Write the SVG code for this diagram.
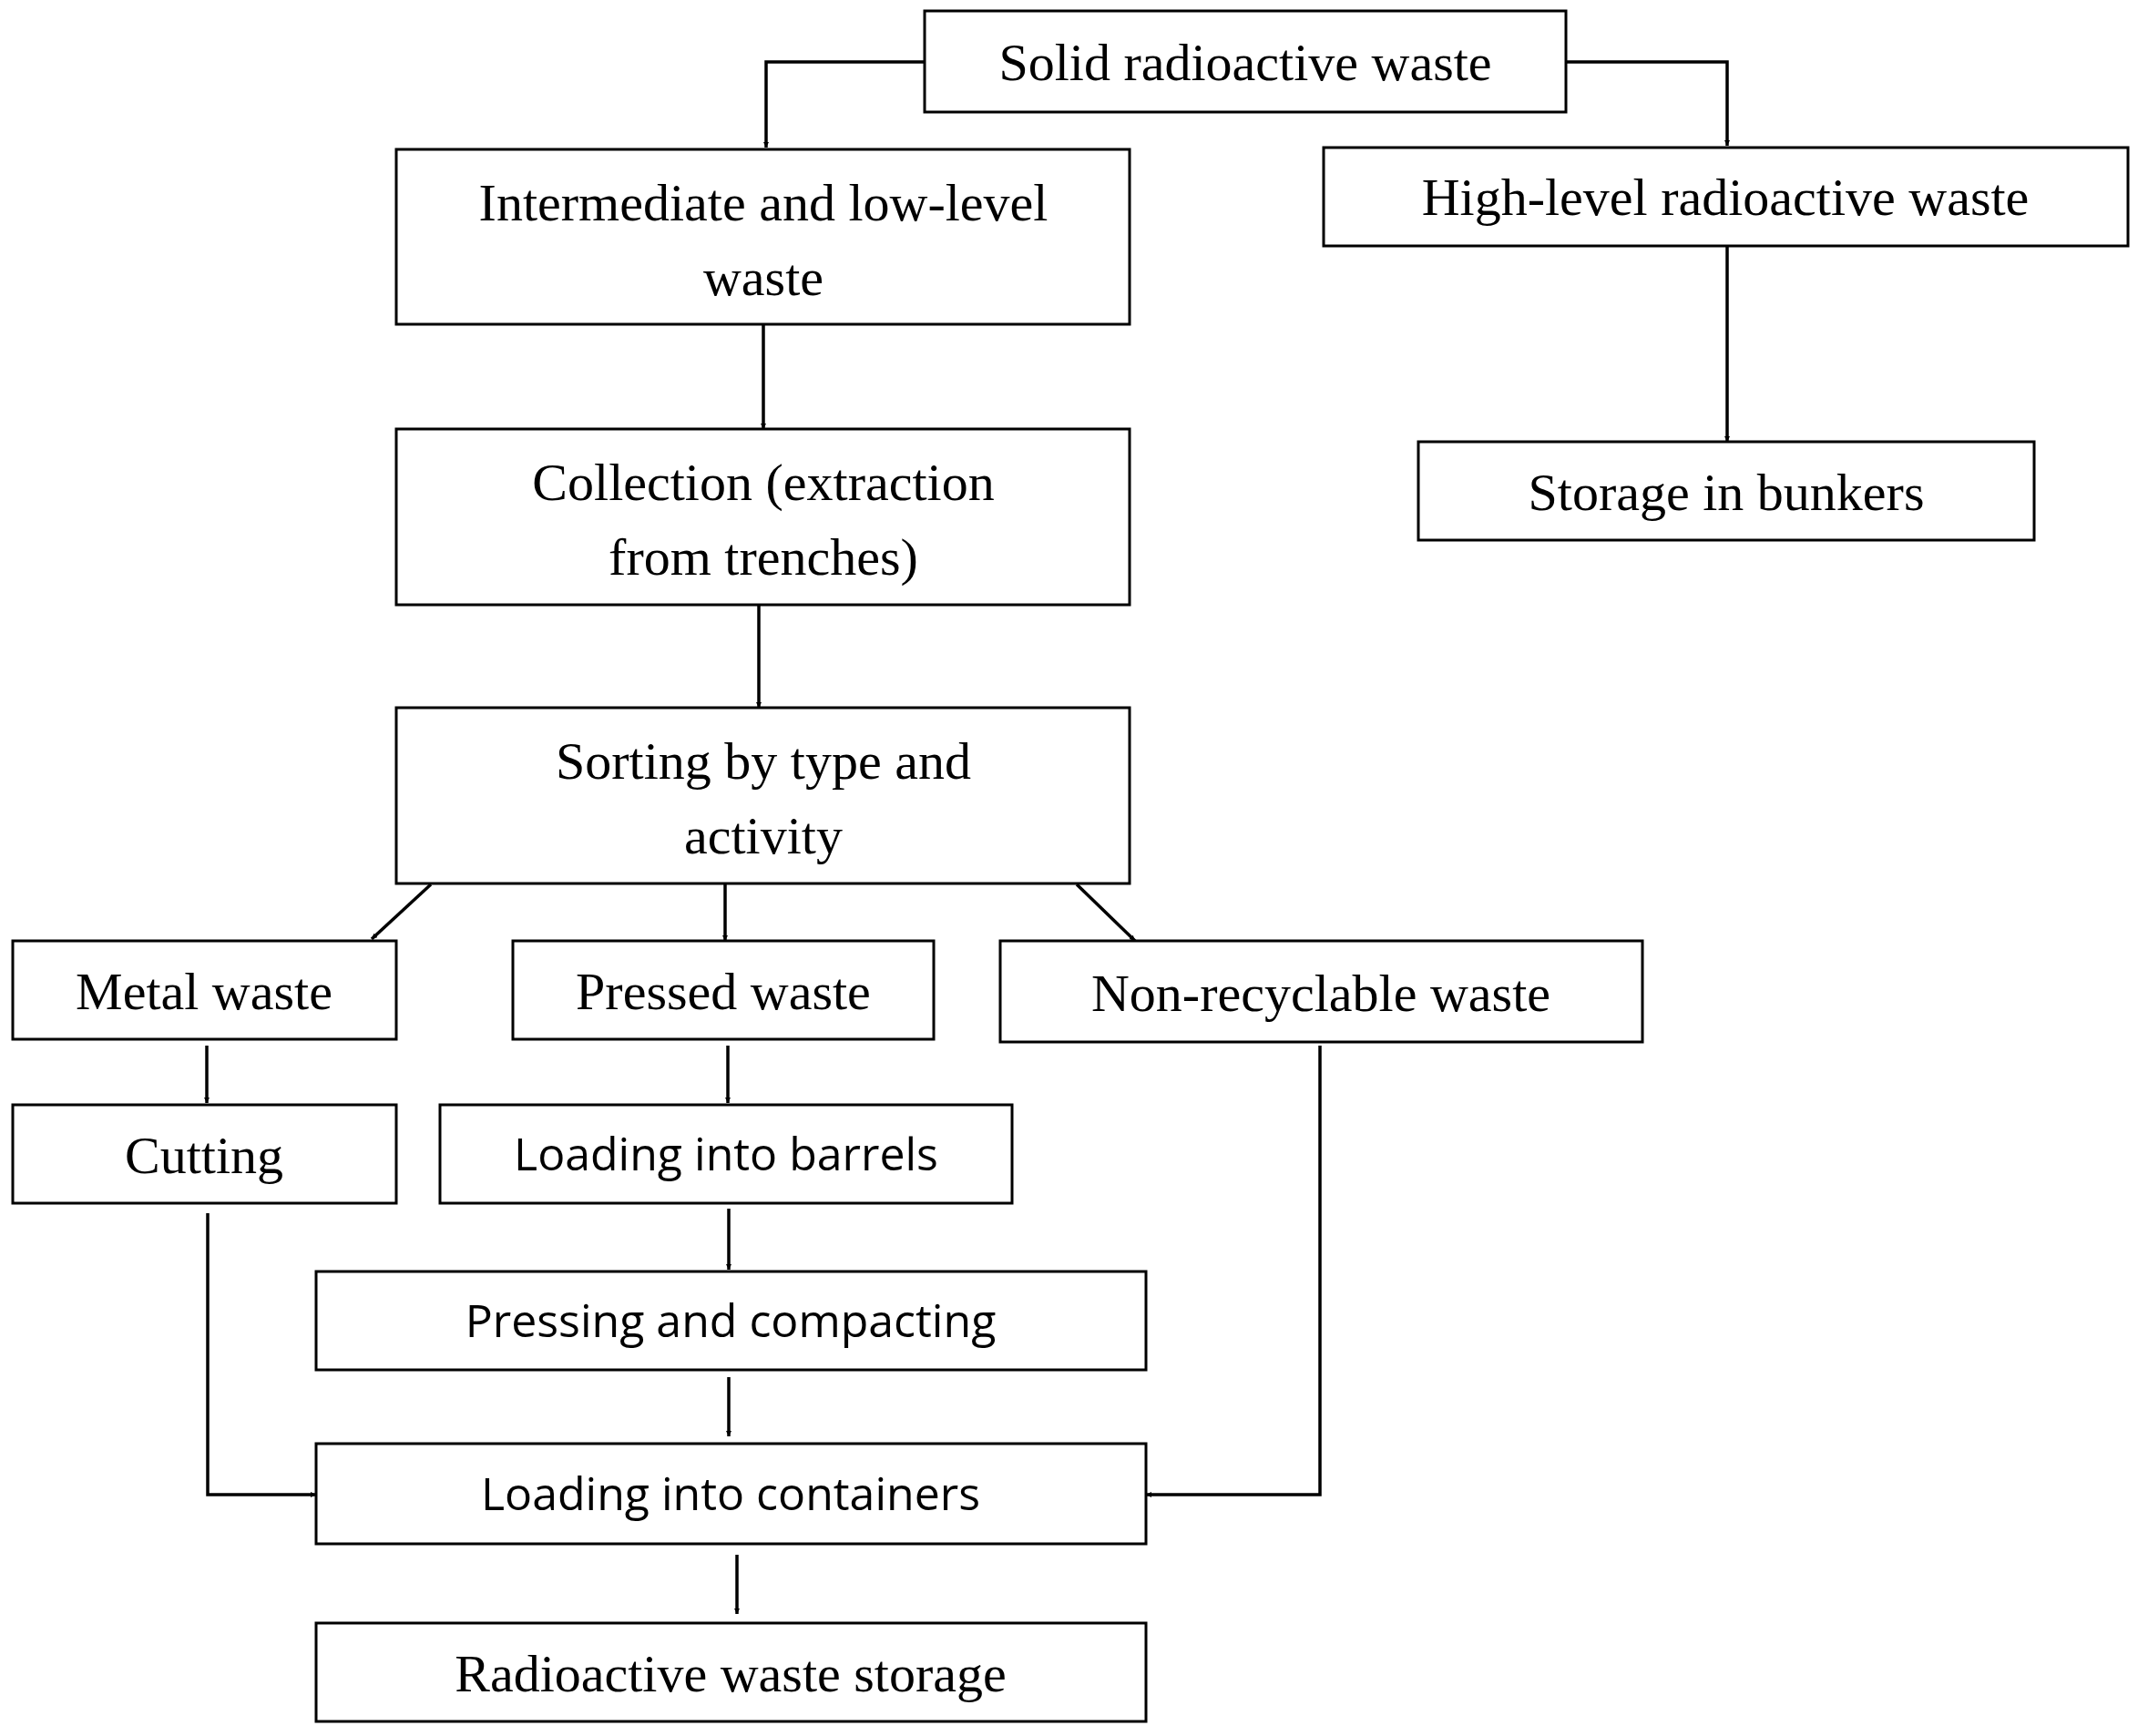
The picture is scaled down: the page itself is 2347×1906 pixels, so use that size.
<svg xmlns="http://www.w3.org/2000/svg" width="2347" height="1906" viewBox="0 0 2347 1906">
<style>
rect{fill:#fff;stroke:#000;stroke-width:3}
text{font-family:"Liberation Serif",serif;font-size:58px;text-anchor:middle;fill:#000}
text.s{font-family:"Open Sans","Liberation Sans",sans-serif;font-size:50px}
#conn path{fill:none;stroke:#000;stroke-width:3.5;marker-end:url(#a)}
</style>
<defs><marker id="a" viewBox="0 0 10 10" refX="10" refY="5" markerWidth="6" markerHeight="6" markerUnits="userSpaceOnUse" orient="auto"><path d="M0,0L10,5L0,10z" fill="#000"/></marker></defs>
<rect x="0" y="0" width="2347" height="1906" style="stroke:none"/>
<g id="conn">
<path d="M1015,68H841V162"/>
<path d="M1719,68H1896V160"/>
<path d="M1896,270V485"/>
<path d="M838,356V471"/>
<path d="M833,664V777"/>
<path d="M473,971L408,1031"/>
<path d="M796,971V1033"/>
<path d="M1182,971L1246,1033"/>
<path d="M227,1148V1211"/>
<path d="M799,1148V1211"/>
<path d="M800,1327V1394"/>
<path d="M800,1512V1577"/>
<path d="M228,1332V1641H347"/>
<path d="M1449,1148V1641H1258"/>
<path d="M809,1707V1772"/>
</g>
<g id="n1"><rect x="1015" y="12" width="704" height="111"/><text x="1367" y="88">Solid radioactive waste</text></g>
<g id="n2"><rect x="435" y="164" width="805" height="192"/><text x="838" y="242">Intermediate and low-level</text><text x="838" y="324">waste</text></g>
<g id="n3"><rect x="1453" y="162" width="883" height="108"/><text x="1894" y="236">High-level radioactive waste</text></g>
<g id="n4"><rect x="1557" y="485" width="676" height="108"/><text x="1895" y="560">Storage in bunkers</text></g>
<g id="n5"><rect x="435" y="471" width="805" height="193"/><text x="838" y="549">Collection (extraction</text><text x="838" y="631">from trenches)</text></g>
<g id="n6"><rect x="435" y="777" width="805" height="193"/><text x="838" y="855">Sorting by type and</text><text x="838" y="937">activity</text></g>
<g id="n7"><rect x="14" y="1033" width="421" height="108"/><text x="224" y="1108">Metal waste</text></g>
<g id="n8"><rect x="563" y="1033" width="462" height="108"/><text x="794" y="1108">Pressed waste</text></g>
<g id="n9"><rect x="1098" y="1033" width="705" height="111"/><text x="1450" y="1110">Non-recyclable waste</text></g>
<g id="n10"><rect x="14" y="1213" width="421" height="108"/><text x="224" y="1288">Cutting</text></g>
<g id="n11"><rect x="483" y="1213" width="628" height="108"/><text class="s" x="797" y="1285">Loading into barrels</text></g>
<g id="n12"><rect x="347" y="1396" width="911" height="108"/><text class="s" x="802" y="1468">Pressing and compacting</text></g>
<g id="n13"><rect x="347" y="1585" width="911" height="110"/><text class="s" x="802" y="1658">Loading into containers</text></g>
<g id="n14"><rect x="347" y="1782" width="911" height="108"/><text x="802" y="1857">Radioactive waste storage</text></g>
</svg>
